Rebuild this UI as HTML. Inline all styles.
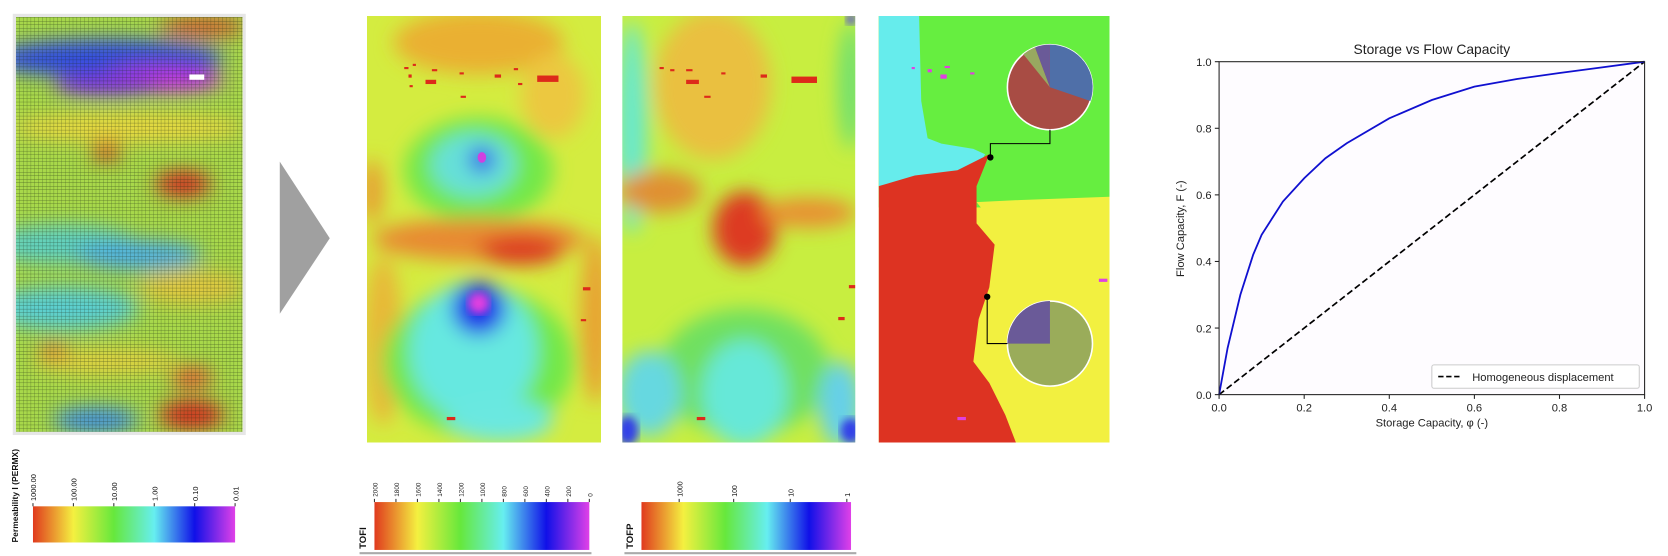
<!DOCTYPE html>
<html><head><meta charset="utf-8">
<style>
html,body{margin:0;padding:0;background:#fff;}
body{width:1668px;height:556px;overflow:hidden;position:relative;font-family:"Liberation Sans",sans-serif;}
svg{position:absolute;left:0;top:0;}
</style></head>
<body>
<svg width="1668" height="556" viewBox="0 0 1568 522.7" preserveAspectRatio="none">
<defs>
  <linearGradient id="rainbow" x1="0" x2="1" y1="0" y2="0">
    <stop offset="0" stop-color="#e03a1e"/><stop offset="0.2" stop-color="#f4f040"/>
    <stop offset="0.4" stop-color="#66e83c"/><stop offset="0.6" stop-color="#66eef0"/>
    <stop offset="0.8" stop-color="#1010e8"/><stop offset="1" stop-color="#e040e8"/>
  </linearGradient>
  <filter id="blur8" x="-20%" y="-20%" width="140%" height="140%"><feGaussianBlur stdDeviation="9"/></filter>
  <filter id="blur4"><feGaussianBlur stdDeviation="4"/></filter>
  <pattern id="grid" width="3.6" height="3.3" patternUnits="userSpaceOnUse">
    <path d="M0 0 V3.3 M0 0 H3.6" stroke="#1a2a10" stroke-width="0.55" stroke-opacity="0.65" fill="none"/>
  </pattern>
  <clipPath id="c1"><rect x="15" y="16" width="213" height="390"/></clipPath>
  <clipPath id="c2"><rect x="345" y="15" width="220" height="401"/></clipPath>
  <clipPath id="c3"><rect x="585" y="15" width="219" height="401"/></clipPath>
  <clipPath id="c4"><rect x="826" y="15" width="217" height="401"/></clipPath>
</defs>

<!-- Panel 1: permeability grid -->
<g>
  <rect x="12" y="13" width="219" height="396" fill="#e6e6e6"/>
  <g clip-path="url(#c1)">
    <rect x="15" y="16" width="213" height="390" fill="#a8d84a"/>
    <g filter="url(#blur8)">
      <ellipse cx="120" cy="120" rx="110" ry="14" fill="#e8d840"/>
      <ellipse cx="60" cy="230" rx="70" ry="18" fill="#60d0c0"/>
      <ellipse cx="130" cy="240" rx="60" ry="14" fill="#50b0e0"/>
      <ellipse cx="60" cy="290" rx="70" ry="20" fill="#5ccfd0"/>
      <ellipse cx="180" cy="270" rx="50" ry="16" fill="#e0c840"/>
      <ellipse cx="100" cy="340" rx="70" ry="12" fill="#e0d040"/>
      <ellipse cx="90" cy="395" rx="40" ry="12" fill="#4090e0"/>
      <ellipse cx="190" cy="25" rx="40" ry="10" fill="#d06030"/>
      <ellipse cx="100" cy="55" rx="110" ry="18" fill="#3050e0"/>
      <ellipse cx="150" cy="75" rx="60" ry="12" fill="#c030e0"/>
      <ellipse cx="100" cy="80" rx="50" ry="10" fill="#8030e0"/>
      <ellipse cx="100" cy="142" rx="14" ry="8" fill="#d03020"/>
      <ellipse cx="172" cy="173" rx="26" ry="12" fill="#d03020"/>
      <ellipse cx="180" cy="390" rx="30" ry="14" fill="#d03020"/>
      <ellipse cx="180" cy="355" rx="20" ry="10" fill="#e06030"/>
      <ellipse cx="50" cy="330" rx="14" ry="6" fill="#e06030"/>
    </g>
    <rect x="15" y="16" width="213" height="390" fill="url(#grid)"/>
    <rect x="178" y="70" width="14" height="5" fill="#fff"/>
  </g>
</g>

<!-- Arrow -->
<polygon points="263,152 310,224 263,295" fill="#a0a0a0"/>

<!-- Panel 2: TOFI -->
<g clip-path="url(#c2)">
  <rect x="345" y="15" width="220" height="401" fill="#d4ec40"/>
  <g filter="url(#blur8)">
    <ellipse cx="450" cy="40" rx="80" ry="30" fill="#eab030"/>
    <ellipse cx="520" cy="90" rx="30" ry="40" fill="#ecc840"/>
    <ellipse cx="350" cy="180" rx="10" ry="30" fill="#e89a30"/>
    <ellipse cx="560" cy="300" rx="14" ry="80" fill="#e8a030"/>
    <ellipse cx="360" cy="320" rx="18" ry="80" fill="#e8b838"/>
    <ellipse cx="450" cy="160" rx="70" ry="50" fill="#72e84a"/>
    <ellipse cx="445" cy="155" rx="40" ry="30" fill="#66e0d8"/>
    <ellipse cx="453" cy="150" rx="12" ry="12" fill="#3050e8"/>
    <ellipse cx="450" cy="225" rx="100" ry="20" fill="#e88a30"/>
    <ellipse cx="490" cy="235" rx="40" ry="14" fill="#dd3a20"/>
    <ellipse cx="450" cy="340" rx="90" ry="70" fill="#72e84a"/>
    <ellipse cx="445" cy="330" rx="60" ry="65" fill="#66e8e0"/>
    <ellipse cx="470" cy="395" rx="50" ry="20" fill="#6ae8e0"/>
    <ellipse cx="450" cy="290" rx="25" ry="25" fill="#2030e8"/>
  </g>
  <ellipse cx="450" cy="285" rx="10" ry="10" fill="#e040e0" filter="url(#blur4)"/>
  <ellipse cx="453" cy="148" rx="4" ry="5" fill="#d040e0"/>
  <g fill="#dd2a1a">
    <rect x="380" y="63" width="4" height="2"/><rect x="388" y="60" width="3" height="2"/><rect x="406" y="65" width="5" height="2"/>
    <rect x="400" y="75" width="10" height="4"/><rect x="384" y="70" width="3" height="3"/><rect x="432" y="68" width="4" height="2"/>
    <rect x="465" y="70" width="6" height="3"/><rect x="483" y="64" width="4" height="2"/><rect x="505" y="71" width="20" height="6"/>
    <rect x="433" y="90" width="5" height="2"/><rect x="385" y="80" width="3" height="2"/><rect x="487" y="78" width="4" height="2"/>
    <rect x="548" y="270" width="7" height="3"/><rect x="546" y="300" width="5" height="2"/><rect x="420" y="392" width="8" height="3"/>
  </g>
</g>

<!-- Panel 3: TOFP -->
<g clip-path="url(#c3)">
  <rect x="585" y="15" width="219" height="401" fill="#c8ee40"/>
  <g filter="url(#blur8)">
    <ellipse cx="594" cy="120" rx="14" ry="100" fill="#66e8d0"/>
    <ellipse cx="670" cy="80" rx="55" ry="70" fill="#eac040"/>
    <ellipse cx="800" cy="80" rx="12" ry="60" fill="#70e070"/>
    <ellipse cx="620" cy="180" rx="40" ry="20" fill="#e09030"/>
    <ellipse cx="700" cy="215" rx="30" ry="35" fill="#dd3a20"/>
    <ellipse cx="760" cy="200" rx="45" ry="14" fill="#e89030"/>
    <ellipse cx="700" cy="350" rx="80" ry="60" fill="#70e060"/>
    <ellipse cx="700" cy="370" rx="40" ry="50" fill="#66e8d8"/>
    <ellipse cx="610" cy="370" rx="30" ry="40" fill="#66d8e0"/>
    <ellipse cx="790" cy="380" rx="20" ry="40" fill="#66d0e8"/>
  </g>
  <ellipse cx="590" cy="405" rx="10" ry="14" fill="#3040e8" filter="url(#blur4)"/>
  <ellipse cx="800" cy="405" rx="10" ry="12" fill="#3040e8" filter="url(#blur4)"/>
  <ellipse cx="800" cy="18" rx="5" ry="5" fill="#5040e0" filter="url(#blur4)"/>
  <g fill="#dd2a1a">
    <rect x="620" y="63" width="4" height="2"/><rect x="630" y="65" width="4" height="2"/><rect x="645" y="65" width="6" height="2"/>
    <rect x="645" y="75" width="12" height="4"/><rect x="678" y="68" width="4" height="2"/><rect x="715" y="70" width="6" height="3"/>
    <rect x="744" y="72" width="24" height="6"/><rect x="662" y="90" width="6" height="2"/><rect x="798" y="268" width="6" height="3"/>
    <rect x="788" y="298" width="6" height="3"/><rect x="655" y="392" width="8" height="3"/>
  </g>
</g>

<!-- Panel 4: drainage regions -->
<g clip-path="url(#c4)">
  <rect x="826" y="15" width="217" height="401" fill="#f2f040"/>
  <rect x="826" y="15" width="217" height="180" fill="#66ee40"/>
  <polygon points="826,15 864,15 866,95 872,130 885,135 915,140 926,145 918,160 826,175" fill="#66ecec"/>
  <polygon points="826,175 860,165 900,160 930,145 918,175 918,210 935,230 930,270 920,300 915,340 930,360 945,390 955,416 826,416" fill="#dd3322"/>
  <polygon points="918,190 960,188 1043,185 1043,200 930,205" fill="#f2f040"/>
  <g>
    <circle cx="987" cy="82" r="40" fill="#a84c44" stroke="#fff" stroke-width="1.5"/>
    <path d="M987 82 L987 42 A40 40 0 0 1 1025 95 Z" fill="#4f6fa8"/>
    <path d="M987 82 L962 51 A40 40 0 0 1 973 44.5 Z" fill="#98a860"/>
    <path d="M987 82 L973 44.5 A40 40 0 0 1 987 42 Z" fill="#6a5a98"/>
  </g>
  <g>
    <circle cx="987" cy="323" r="40" fill="#9aac5a" stroke="#fff" stroke-width="1.5"/>
    <path d="M987 323 L987 283 A40 40 0 0 1 1027 323 Z" transform="rotate(-90 987 323)" fill="#6a5a98"/>
  </g>
  <polyline points="931,148 931,135 987,135 987,122" fill="none" stroke="#000" stroke-width="1"/>
  <circle cx="931" cy="148" r="3" fill="#000"/>
  <polyline points="928,279 928,323 947,323" fill="none" stroke="#000" stroke-width="1"/>
  <circle cx="928" cy="279" r="3" fill="#000"/>
  <g fill="#e040e0">
    <rect x="857" y="63" width="3" height="2"/><rect x="872" y="65" width="4" height="3"/><rect x="888" y="62" width="5" height="2"/>
    <rect x="884" y="70" width="6" height="4"/><rect x="912" y="68" width="4" height="2"/><rect x="1033" y="262" width="8" height="3"/>
    <rect x="900" y="392" width="8" height="3"/>
  </g>
</g>

<!-- Colorbar 1 -->
<g font-size="8" fill="#111">
  <rect x="31" y="476" width="190" height="34" fill="url(#rainbow)"/>
  <text transform="translate(17,510) rotate(-90)" font-weight="bold" font-size="8">Permeability I (PERMX)</text>
  <g id="cb1ticks"></g>
</g>
<!-- Colorbar 2 -->
<g font-size="7" fill="#111">
  <rect x="352" y="472" width="202" height="45" fill="url(#rainbow)"/>
  <text transform="translate(344,516) rotate(-90)" font-weight="bold" font-size="9">TOFI</text>
  <line x1="338" y1="520" x2="556" y2="520" stroke="#aaa" stroke-width="2"/>
  <g id="cb2ticks"></g>
</g>
<!-- Colorbar 3 -->
<g font-size="7" fill="#111">
  <rect x="603" y="472" width="197" height="45" fill="url(#rainbow)"/>
  <text transform="translate(595,516) rotate(-90)" font-weight="bold" font-size="9">TOFP</text>
  <line x1="587" y1="520" x2="805" y2="520" stroke="#aaa" stroke-width="2"/>
  <g id="cb3ticks"></g>
</g>

<!-- Line chart -->
<g>
  <rect x="1146" y="58" width="400" height="313" fill="#fefcff"/>
  <text x="1346" y="51" text-anchor="middle" font-size="13" fill="#222">Storage vs Flow Capacity</text>
  <g id="axes"></g>
  <path id="diag" fill="none" stroke="#000" stroke-width="1.6" stroke-dasharray="6,3"/>
  <path id="curve" fill="none" stroke="#1010d0" stroke-width="1.7"/>
  <rect x="1146" y="58" width="400" height="313" fill="none" stroke="#222" stroke-width="1"/>
  <text x="1346" y="401" text-anchor="middle" font-size="10.5" fill="#222">Storage Capacity, φ (-)</text>
  <text transform="translate(1113,215) rotate(-90)" text-anchor="middle" font-size="10.5" fill="#222">Flow Capacity, F (-)</text>
  <g>
    <rect x="1346" y="343" width="195" height="22" rx="2" fill="#fff" stroke="#ccc"/>
    <line x1="1352" y1="354" x2="1374" y2="354" stroke="#000" stroke-width="1.6" stroke-dasharray="5,2.5"/>
    <text x="1384" y="358" font-size="10.5" fill="#222">Homogeneous displacement</text>
  </g>
</g>
</svg>
<script>
const NS='http://www.w3.org/2000/svg';
const phi=[0,0.02,0.05,0.08,0.1,0.15,0.2,0.25,0.3,0.4,0.5,0.6,0.7,0.8,0.9,1.0];
const flow=[0,0.14,0.3,0.42,0.48,0.58,0.65,0.71,0.755,0.83,0.885,0.925,0.948,0.966,0.983,1.0];
const homoX=[0,1];
const homoY=[0,1];
const tickVals=[0,0.2,0.4,0.6,0.8,1.0];
const tickLabels=['0.0','0.2','0.4','0.6','0.8','1.0'];
const permLabels=['1000.00','100.00','10.00','1.00','0.10','0.01'];
const tofiLabels=['2000','1800','1600','1400','1200','1000','800','600','400','200','0'];
const tofpLabels=['1000','100','10','1'];
const tofpPos=[0.18,0.44,0.71,0.98];

const X=v=>1146+v*400, Y=v=>371-v*313;
function mk(tag,attrs,parent){const e=document.createElementNS(NS,tag);for(const k in attrs)e.setAttribute(k,attrs[k]);parent.appendChild(e);return e;}
const ax=document.getElementById('axes');
tickVals.forEach((v,i)=>{
  const t1=mk('line',{x1:X(v),x2:X(v),y1:371,y2:375,stroke:'#222'},ax);
  
  
  const l1=mk('text',{x:X(v),y:387,'text-anchor':'middle','font-size':'10.5',fill:'#222'},ax);l1.textContent=tickLabels[i];
  
  
  const t2=mk('line',{x1:1142,x2:1146,y1:Y(v),y2:Y(v),stroke:'#222'},ax);
  
  
  const l2=mk('text',{x:1139,y:Y(v)+4,'text-anchor':'end','font-size':'10.5',fill:'#222'},ax);l2.textContent=tickLabels[i];
  
  
});
document.getElementById('curve').setAttribute('d',phi.map((p,i)=>(i?'L':'M')+X(p)+' '+Y(flow[i])).join(' '));
document.getElementById('diag').setAttribute('d',homoX.map((p,i)=>(i?'L':'M')+X(p)+' '+Y(homoY[i])).join(' '));

function cbTicks(id,labels,x0,w,ybar,pos,fs){
  const g=document.getElementById(id);
  labels.forEach((lab,i)=>{
    const f=pos?pos[i]:i/(labels.length-1);const x=x0+f*w;
    mk('line',{x1:x,x2:x,y1:ybar-3,y2:ybar,stroke:'#333'},g);
    const t=mk('text',{transform:`translate(${x+3},${ybar-5}) rotate(-90)`,'font-size':fs,fill:'#111'},g);
    t.textContent=lab;
    
    
  });
}
cbTicks('cb1ticks',permLabels,31,190,476,null,7);
cbTicks('cb2ticks',tofiLabels,352,202,472,null,6);
cbTicks('cb3ticks',tofpLabels,603,197,472,tofpPos,6.5);
</script>
</body></html>
